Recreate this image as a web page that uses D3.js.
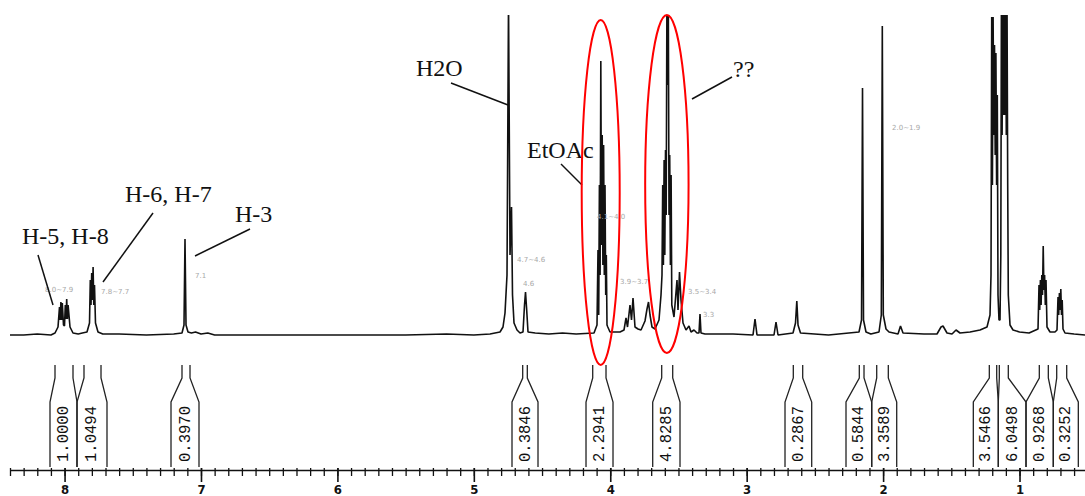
<!DOCTYPE html>
<html><head><meta charset="utf-8">
<script src="https://cdn.jsdelivr.net/npm/d3@7"></script>
<style>body{margin:0;background:#fff}svg{display:block}</style>
</head><body><svg id="c" width="1085" height="496"></svg>
<script>
// ---- data ----
const majorTicks = [8, 7, 6, 5, 4, 3, 2, 1];
const minorTicks = [8.4,8.3,8.2,8.1,8.0,7.9,7.8,7.7,7.6,7.5,7.4,7.3,7.2,7.1,7.0,6.9,6.8,6.7,6.6,6.5,6.4,6.3,6.2,6.1,6.0,5.9,5.8,5.7,5.6,5.5,5.4,5.3,5.2,5.1,5.0,4.9,4.8,4.7,4.6,4.5,4.4,4.3,4.2,4.1,4.0,3.9,3.8,3.7,3.6,3.5,3.4,3.3,3.2,3.1,3.0,2.9,2.8,2.7,2.6,2.5,2.4,2.3,2.2,2.1,2.0,1.9,1.8,1.7,1.6,1.5,1.4,1.3,1.2,1.1,1.0,0.9,0.8,0.7,0.6];

// spectrum trace: [ppm, intensity]
const spectrum = [
  [8.40,0],[8.30,0],[8.20,1],[8.10,0],[8.0701,2],[8.0481,8],[8.0372,28],[8.0320,15],[8.0269,33],[8.0218,15],
  [8.0166,32],[8.0078,10],[8.0005,9],[7.9946,30],[7.9895,16],[7.9844,36],[7.9792,16],[7.9741,30],[7.9602,8],[7.9382,2],
  [7.90,1],[7.87,2],[7.8356,3],[7.8172,12],[7.8114,55],[7.8062,30],[7.8011,62],[7.7960,35],[7.7909,68],[7.7857,30],
  [7.7806,50],[7.7733,12],[7.7549,3],[7.72,1],[7.60,1],[7.40,0],[7.20,1],
  [7.1392,2],[7.1245,10],[7.1172,96],[7.1098,10],[7.0952,3],[7.07,2],[7.04,3],[7.00,1],[6.95,2],[6.90,0],
  [6.50,0],[6.00,0],[5.50,0],[5.20,1],[5.00,0],[4.8815,1],[4.8081,3],[4.7862,8],[4.7715,22],[4.7568,60],
  [4.7458,335],[4.7348,80],[4.7238,128],[4.7165,40],[4.7055,12],[4.6835,5],[4.6615,2],[4.6396,3],[4.6285,30],[4.6212,43],
  [4.6139,28],[4.6029,3],[4.55,2],[4.45,1],[4.35,2],[4.25,1],[4.1191,2],[4.0971,10],[4.0898,85],[4.0846,20],
  [4.0795,150],[4.0744,60],[4.0692,274],[4.0641,90],[4.0590,200],[4.0539,70],[4.0487,190],[4.0436,60],[4.0385,150],[4.0333,40],
  [4.0289,80],[4.0238,10],[4.0180,8],[4.0018,3],[3.9285,3],[3.8992,5],[3.8845,17],
  [3.8735,8],[3.8552,30],[3.8442,15],[3.8332,37],[3.8186,8],[3.7966,6],[3.7746,5],[3.7453,14],[3.7306,26],[3.7196,33],
  [3.7086,20],[3.6940,8],[3.6720,6],[3.6427,15],[3.6280,40],[3.6207,60],[3.6155,150],[3.6104,70],[3.6052,175],[3.6001,80],
  [3.5950,185],[3.5899,120],[3.5847,335],[3.5796,250],[3.5745,335],[3.5693,120],[3.5642,180],[3.5591,70],[3.5539,160],[3.5488,30],
  [3.5327,18],[3.5107,55],[3.5034,25],[3.4924,63],[3.4814,35],[3.4667,12],[3.4447,5],[3.4227,9],[3.4081,3],
  [3.3861,5],[3.3641,2],[3.3494,2],[3.3421,21],[3.3348,2],[3.3055,1],[3.10,1],[2.9536,0],[2.9389,16],[2.9243,0],
  [2.7996,0],[2.7850,13],[2.7703,0],[2.6604,2],[2.6421,12],[2.6325,34],[2.6237,10],[2.6054,2],[2.40,0],[2.1766,3],
  [2.1582,15],[2.1509,247],[2.1436,15],[2.1253,3],[2.0900,1],[2.0300,3],[2.0131,20],[2.0058,309],[1.9985,20],[1.9787,6],
  [1.9567,3],[1.8907,1],[1.8724,9],[1.8540,2],[1.7000,1],[1.6048,1],[1.5755,8],[1.5608,9],[1.5315,2],[1.4948,1],
  [1.4655,5],[1.4362,2],[1.3629,3],[1.2896,5],[1.2383,8],[1.2163,20],[1.2090,60],[1.2038,318],[1.1987,150],[1.1936,318],
  [1.1884,200],[1.1833,290],[1.1782,180],[1.1731,282],[1.1679,150],[1.1628,240],[1.1577,40],[1.1504,15],[1.1430,15],[1.1371,80],
  [1.1327,335],[1.1276,200],[1.1225,335],[1.1173,220],[1.1122,335],[1.1071,220],[1.1019,335],[1.0968,200],[1.0917,335],[1.0866,150],
  [1.0822,40],[1.0697,10],[1.0477,5],[1.0000,3],[0.9300,2],[0.8644,6],[0.8571,50],[0.8520,25],[0.8469,55],[0.8417,30],
  [0.8366,60],[0.8315,40],[0.8263,89],[0.8212,45],[0.8161,60],[0.8109,30],[0.8058,55],[0.7985,8],[0.7765,3],[0.7398,3],
  [0.7252,5],[0.7178,38],[0.7127,20],[0.7076,42],[0.7025,25],[0.6973,46],[0.6922,20],[0.6871,35],[0.6812,6],
  [0.6666,2],[0.6000,1],[0.5200,0]
];

// integrals
const intLabels = ["1.0000","1.0494","0.3970","0.3846","2.2941","4.8285","0.2867","0.5844","3.3589","3.5466","6.0498","0.9268","0.3252"];
const intFrom   = [8.0701,7.8576,7.1392,4.6418,4.1286,3.6229,2.6582,2.1744,2.0468,1.2214,1.1481,0.8549,0.7274];
const intTo     = [7.9382,7.7329,7.0805,4.6080,4.0311,3.5422,2.5893,2.1399,1.9618,1.1672,1.0822,0.7889,0.6541];
const boxFrom   = [8.1068,7.9089,7.2198,4.7202,4.1777,3.6888,2.7190,2.2719,2.0835,1.3387,1.1555,0.9524,0.7523];
const boxTo     = [7.9089,7.6890,7.0146,4.5296,3.9798,3.4887,2.5233,2.0835,1.9002,1.1555,0.9524,0.7523,0.5690];

// assignment labels
const annTexts = ["H-5, H-8", "H-6, H-7", "H-3", "H2O", "EtOAc", "??"];
// highlighted signals (ppm)
const highlightPpm = [4.07, 3.585];

// small peak-picking notes
const noteTexts = ["8.0~7.9","7.8~7.7","7.1","4.7~4.6","4.6","4.1~4.0","3.9~3.7","3.5~3.4","3.3","2.0~1.9"];

// ---- drawing ----
const svg = d3.select("#c");
const W = 1085, H = 496;
const x = d3.scaleLinear().domain([8.4, 0.52]).range([10, 1085]);
const y = d3.scaleLinear().domain([0, 320]).range([335, 15]);

svg.append("rect").attr("width", W).attr("height", H).attr("fill", "#fff");

svg.append("defs").append("clipPath").attr("id", "clip")
  .append("rect").attr("x", 0).attr("y", 15).attr("width", W).attr("height", 330);

const line = d3.line().x(d => x(d[0])).y(d => y(d[1]));
svg.append("path")
  .datum(spectrum)
  .attr("clip-path", "url(#clip)")
  .attr("d", line)
  .attr("fill", "none")
  .attr("stroke", "#111")
  .attr("stroke-width", 1.6)
  .attr("stroke-linejoin", "bevel");

// peak-picking notes (tiny grey)
const notePos = [[45,292],[101,294],[195,278],[517,262],[523,286],[597,219],[620,284],[688,294],[703,317],[892,130]];
svg.append("g").selectAll("text").data(noteTexts).join("text")
  .attr("x", (d,i) => notePos[i][0]).attr("y", (d,i) => notePos[i][1])
  .attr("font-family", "DejaVu Sans, sans-serif").attr("font-size", 7)
  .attr("fill", "#a8a8a8").text(d => d);

// assignment labels
const annPos = [[22,244],[125,202],[235,222],[416,76],[527,158],[733,77]];
const leaders = [[38,255,53,305],[153,213,103,282],[250,229,195,256],[451,83,508,105],[561,164,582,185],[732,77,692,99]];
const ann = svg.append("g");
ann.selectAll("text").data(annTexts).join("text")
  .attr("x", (d,i) => annPos[i][0]).attr("y", (d,i) => annPos[i][1])
  .attr("font-family", "Liberation Serif, Times New Roman, serif")
  .attr("font-size", 24).attr("fill", "#111").text(d => d);
ann.selectAll("line").data(leaders).join("line")
  .attr("x1", d => d[0]).attr("y1", d => d[1]).attr("x2", d => d[2]).attr("y2", d => d[3])
  .attr("stroke", "#111").attr("stroke-width", 1.5);

// red ellipses
const ellGeom = [[192.5, 19, 172.5], [184, 21.7, 169]];
svg.append("g").selectAll("ellipse").data(highlightPpm).join("ellipse")
  .attr("cx", (d) => x(d))
  .attr("cy", (d,i) => ellGeom[i][0])
  .attr("rx", (d,i) => ellGeom[i][1])
  .attr("ry", (d,i) => ellGeom[i][2])
  .attr("fill", "none").attr("stroke", "#ff0000").attr("stroke-width", 2);

// integrals
const ig = svg.append("g").attr("stroke", "#222").attr("stroke-width", 1.3).attr("fill", "none");
intLabels.forEach((lab, i) => {
  const xl = x(intFrom[i]), xr = x(intTo[i]), bl = x(boxFrom[i]), br = x(boxTo[i]);
  ig.append("path").attr("d", `M${xl},365 L${xl},378 L${bl},402 L${bl},467`);
  ig.append("path").attr("d", `M${xr},365 L${xr},378 L${br},402 L${br},467`);
  const cx = (bl + br) / 2;
  svg.append("text")
    .attr("transform", `translate(${cx},462) rotate(-90)`)
    .attr("dominant-baseline", "central")
    .attr("font-family", "Liberation Mono, DejaVu Sans Mono, monospace")
    .attr("font-size", 17).attr("textLength", 56).attr("lengthAdjust", "spacingAndGlyphs")
    .attr("fill", "#111").text(lab);
});

// axis
const axMinor = d3.axisBottom(x).tickValues(minorTicks).tickSize(6).tickSizeOuter(0).tickFormat("");
const gMinor = svg.append("g").attr("transform", "translate(0,470)").call(axMinor);
gMinor.select(".domain").attr("stroke", "#111").attr("stroke-width", 1.3);
gMinor.selectAll(".tick line").attr("y1", -2).attr("stroke", "#111").attr("stroke-width", 1.3);

const axMajor = d3.axisBottom(x).tickValues(majorTicks).tickSize(12).tickSizeOuter(0).tickFormat(d3.format("d"));
const gMajor = svg.append("g").attr("transform", "translate(0,470)").call(axMajor);
gMajor.select(".domain").remove();
gMajor.selectAll(".tick line").attr("y1", -2).attr("stroke", "#111").attr("stroke-width", 1.6);
gMajor.selectAll(".tick text").attr("y", 14).attr("dy", 0)
  .attr("dominant-baseline", "hanging")
  .attr("font-family", "DejaVu Sans Condensed, DejaVu Sans, sans-serif")
  .attr("font-size", 13).attr("font-weight", "bold").attr("fill", "#111");
</script></body></html>
